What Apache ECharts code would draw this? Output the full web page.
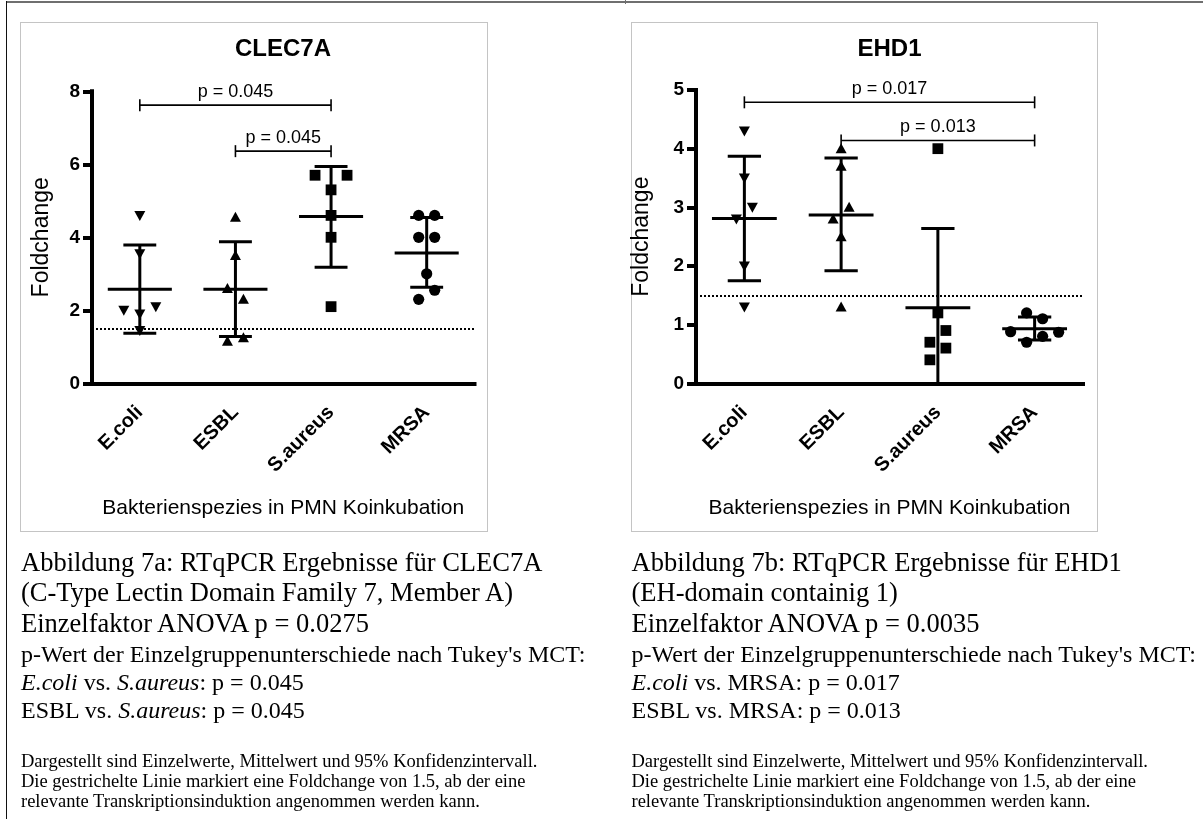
<!DOCTYPE html>
<html>
<head>
<meta charset="utf-8">
<title>RTqPCR CLEC7A / EHD1</title>
<script src="https://cdn.jsdelivr.net/npm/echarts@6/dist/echarts.min.js"></script>
<style>
  html, body { margin: 0; padding: 0; background: #fff; }
  #page { position: relative; width: 1203px; height: 819px; overflow: hidden; background: #fff; }
  #chart { position: absolute; left: 0; top: 0; width: 1203px; height: 819px; }
  .frame { position: absolute; border: 1px solid #c4c4c4; box-sizing: border-box; }
  .rule { position: absolute; }
  .cap { position: absolute; font-family: "Liberation Serif", "Times New Roman", serif; color: #000;
         white-space: nowrap; line-height: 1; }
  .l1 { font-size: 26.5px; }
  .l2 { font-size: 24px; }
  .l3 { font-size: 18.5px; }
</style>
</head>
<body>
<div id="page">
  <div class="rule" style="left:6px;top:1px;width:1197px;height:2px;background:#6f6f6f;"></div>
  <div class="rule" style="left:6px;top:1px;width:1px;height:818px;background:#111;"></div>
  <div class="rule" style="left:625px;top:0;width:1px;height:4px;background:#6f6f6f;"></div>
  <div class="frame" style="left:20px;top:22px;width:468px;height:510px;"></div>
  <div class="frame" style="left:631px;top:22px;width:467px;height:510px;"></div>
  <div id="chart"></div>

  <!-- caption of figure 7a -->
  <div class="cap l1" style="left:21px;top:548.6px;">Abbildung 7a: RTqPCR Ergebnisse für CLEC7A</div>
  <div class="cap l1" style="left:21px;top:579.1px;">(C-Type Lectin Domain Family 7, Member A)</div>
  <div class="cap l1" style="left:21px;top:610.1px;">Einzelfaktor ANOVA p = 0.0275</div>
  <div class="cap l2" style="left:21px;top:641.6px;">p-Wert der Einzelgruppenunterschiede nach Tukey's MCT:</div>
  <div class="cap l2" style="left:21px;top:669.9px;"><i>E.coli</i> vs. <i>S.aureus</i>: p = 0.045</div>
  <div class="cap l2" style="left:21px;top:698.2px;">ESBL vs. <i>S.aureus</i>: p = 0.045</div>
  <div class="cap l3" style="left:21px;top:751.5px;">Dargestellt sind Einzelwerte, Mittelwert und 95% Konfidenzintervall.</div>
  <div class="cap l3" style="left:21px;top:771.5px;">Die gestrichelte Linie markiert eine Foldchange von 1.5, ab der eine</div>
  <div class="cap l3" style="left:21px;top:791.5px;">relevante Transkriptionsinduktion angenommen werden kann.</div>

  <!-- caption of figure 7b -->
  <div class="cap l1" style="left:631.5px;top:548.6px;">Abbildung 7b: RTqPCR Ergebnisse für EHD1</div>
  <div class="cap l1" style="left:631.5px;top:579.1px;">(EH-domain containig 1)</div>
  <div class="cap l1" style="left:631.5px;top:610.1px;">Einzelfaktor ANOVA p = 0.0035</div>
  <div class="cap l2" style="left:631.5px;top:641.6px;">p-Wert der Einzelgruppenunterschiede nach Tukey's MCT:</div>
  <div class="cap l2" style="left:631.5px;top:669.9px;"><i>E.coli</i> vs. MRSA: p = 0.017</div>
  <div class="cap l2" style="left:631.5px;top:698.2px;">ESBL vs. MRSA: p = 0.013</div>
  <div class="cap l3" style="left:631.5px;top:751.5px;">Dargestellt sind Einzelwerte, Mittelwert und 95% Konfidenzintervall.</div>
  <div class="cap l3" style="left:631.5px;top:771.5px;">Die gestrichelte Linie markiert eine Foldchange von 1.5, ab der eine</div>
  <div class="cap l3" style="left:631.5px;top:791.5px;">relevante Transkriptionsinduktion angenommen werden kann.</div>
</div>

<script>
// ---- data ----------------------------------------------------------------
const categories = ['E.coli', 'ESBL', 'S.aureus', 'MRSA'];

// CLEC7A fold changes per bacterial species
const clecEcoli   = [4.6, 3.55, 2.0, 1.9, 2.1, 1.45];
const clecEsbl    = [4.55, 3.5, 2.6, 2.3, 1.15, 1.25];
const clecSaureus = [5.7, 5.3, 5.7, 4.6, 4.0, 2.1];
const clecMrsa    = [4.6, 4.6, 4.0, 4.0, 3.0, 2.3, 2.55];
const clecMean    = [2.58, 2.58, 4.57, 3.57];
const clecCiLow   = [1.37, 1.28, 3.18, 2.63];
const clecCiHigh  = [3.79, 3.88, 5.94, 4.54];
const clecSigFrom  = [0, 1];
const clecSigTo    = [2, 2];
const clecSigLevel = [7.62, 6.36];
const clecSigLabel = ['p = 0.045', 'p = 0.045'];

// EHD1 fold changes per bacterial species
const ehdEcoli   = [4.3, 3.5, 2.8, 3.0, 2.0, 1.3];
const ehdEsbl    = [4.0, 3.7, 2.8, 3.0, 2.5, 1.3];
const ehdSaureus = [4.0, 1.2, 0.7, 0.9, 0.4, 0.6];
const ehdMrsa    = [1.2, 1.1, 0.88, 0.7, 0.8, 0.87];
const ehdMean    = [2.81, 2.87, 1.29, 0.93];
const ehdCiLow   = [1.75, 1.92, -0.05, 0.74];
const ehdCiHigh  = [3.87, 3.84, 2.64, 1.13];
const ehdSigFrom  = [0, 1];
const ehdSigTo    = [3, 3];
const ehdSigLevel = [4.79, 4.14];
const ehdSigLabel = ['p = 0.017', 'p = 0.013'];

const inductionThreshold = 1.5;

// ---- drawing helpers -----------------------------------------------------
const FONT = '"Liberation Sans", Arial, Helvetica, sans-serif';
const SHAPES = ['triangleDown', 'triangleUp', 'square', 'circle'];

// Column scatter: points closer than `near` px vertically share a row
// and are spread symmetrically around the column centre.
function swarmOffsets(ys, near, step) {
  const order = ys.map((y, i) => i).sort((a, b) => (ys[b] - ys[a]) || (a - b));
  const offs = new Array(ys.length).fill(0);
  let bin = [];
  const flush = () => {
    bin.sort((a, b) => a - b);
    bin.forEach((idx, k) => { offs[idx] = (k - (bin.length - 1) / 2) * step; });
    bin = [];
  };
  let start = null;
  order.forEach(i => {
    if (bin.length && Math.abs(ys[i] - start) >= near) flush();
    if (!bin.length) start = ys[i];
    bin.push(i);
  });
  if (bin.length) flush();
  return offs;
}

function markerShape(kind, x, y) {
  const st = { fill: '#000', stroke: null };
  if (kind === 'triangleDown')
    return { type: 'polygon', shape: { points: [[x - 5.5, y - 4.5], [x + 5.5, y - 4.5], [x, y + 5.5]] }, style: st };
  if (kind === 'triangleUp')
    return { type: 'polygon', shape: { points: [[x - 5.5, y + 4.5], [x + 5.5, y + 4.5], [x, y - 5.5]] }, style: st };
  if (kind === 'square')
    return { type: 'rect', shape: { x: x - 5.4, y: y - 5.4, width: 10.8, height: 10.8 }, style: st };
  return { type: 'circle', shape: { cx: x, cy: y, r: 5.6 }, style: st };
}

function pointsSeries(grid, groups) {
  const data = [];
  groups.forEach((vals, c) => vals.forEach((v, k) => data.push([c, v, k])));
  return {
    type: 'custom', xAxisIndex: grid, yAxisIndex: grid, z: 3, data,
    renderItem(params, api) {
      const c = api.value(0), v = api.value(1), k = api.value(2);
      const ys = groups[c].map(val => api.coord([c, val])[1]);
      const offs = swarmOffsets(ys, 15, 16);
      const p = api.coord([c, v]);
      return markerShape(SHAPES[c], p[0] + offs[k], p[1]);
    }
  };
}

function summarySeries(grid, mean, lo, hi, yMin) {
  return {
    type: 'custom', xAxisIndex: grid, yAxisIndex: grid, z: 4,
    data: mean.map((m, c) => [c, m, lo[c], hi[c]]),
    renderItem(params, api) {
      const c = api.value(0);
      const band = api.size([1, 0])[0];
      const pm = api.coord([c, api.value(1)]);
      const lowVal = api.value(2), highVal = api.value(3);
      const ph = api.coord([c, highVal]);
      const pl = api.coord([c, Math.max(lowVal, yMin)]);
      const mw = band * 0.335, cw = band * 0.172;
      const st = { stroke: '#000', lineWidth: 3 };
      const kids = [
        { type: 'line', shape: { x1: pm[0] - mw, y1: pm[1], x2: pm[0] + mw, y2: pm[1] }, style: st },
        { type: 'line', shape: { x1: ph[0], y1: ph[1], x2: pl[0], y2: pl[1] }, style: st },
        { type: 'line', shape: { x1: ph[0] - cw, y1: ph[1], x2: ph[0] + cw, y2: ph[1] }, style: st }
      ];
      if (lowVal >= yMin)
        kids.push({ type: 'line', shape: { x1: pl[0] - cw, y1: pl[1], x2: pl[0] + cw, y2: pl[1] }, style: st });
      return { type: 'group', children: kids };
    },
    markLine: {
      silent: true, symbol: 'none', label: { show: false },
      lineStyle: { color: '#000', width: 2, type: [2, 2] },
      data: [{ yAxis: inductionThreshold }]
    }
  };
}

function bracketSeries(grid, from, to, level, labels) {
  return {
    type: 'custom', xAxisIndex: grid, yAxisIndex: grid, z: 5, clip: false,
    data: from.map((f, i) => [f, to[i], level[i], i]),
    renderItem(params, api) {
      const a = api.coord([api.value(0), api.value(2)]);
      const b = api.coord([api.value(1), api.value(2)]);
      const st = { stroke: '#000', lineWidth: 1.6 };
      const y = a[1];
      return {
        type: 'group',
        children: [
          { type: 'line', shape: { x1: a[0], y1: y, x2: b[0], y2: y }, style: st },
          { type: 'line', shape: { x1: a[0], y1: y - 6, x2: a[0], y2: y + 6 }, style: st },
          { type: 'line', shape: { x1: b[0], y1: y - 6, x2: b[0], y2: y + 6 }, style: st },
          { type: 'text', x: (a[0] + b[0]) / 2, y: y - 4,
            style: { text: labels[api.value(3)], fill: '#000', font: '18px ' + FONT,
                     align: 'center', verticalAlign: 'bottom' } }
        ]
      };
    }
  };
}

function xAxisFor(grid) {
  return {
    gridIndex: grid, type: 'category', data: categories,
    axisLine: { lineStyle: { color: '#000', width: 4, cap: 'square' } },
    axisTick: { alignWithLabel: true, length: 10, lineStyle: { color: '#000', width: 4 } },
    axisLabel: { rotate: 45, margin: 26, color: '#000', fontSize: 20, fontWeight: 'bold', fontFamily: FONT },
    name: 'Bakterienspezies in PMN Koinkubation', nameLocation: 'middle', nameGap: 114,
    nameTextStyle: { color: '#000', fontSize: 21, fontFamily: FONT }
  };
}

function yAxisFor(grid, max, interval, gap) {
  return {
    gridIndex: grid, type: 'value', min: 0, max, interval,
    axisLine: { show: true, lineStyle: { color: '#000', width: 4, cap: 'square' } },
    axisTick: { show: true, length: 9, lineStyle: { color: '#000', width: 4 } },
    splitLine: { show: false },
    axisLabel: { margin: 12, color: '#000', fontSize: 19, fontWeight: 'bold', fontFamily: FONT },
    name: 'Foldchange', nameLocation: 'middle', nameGap: gap,
    nameTextStyle: { color: '#000', fontSize: 23, fontFamily: FONT }
  };
}

const chart = echarts.init(document.getElementById('chart'), null, { renderer: 'canvas' });
chart.setOption({
  animation: false,
  backgroundColor: 'transparent',
  graphic: [
    { type: 'text', x: 283, y: 49, style: { text: 'CLEC7A', font: 'bold 24px ' + FONT, fill: '#000', align: 'center', verticalAlign: 'middle' } },
    { type: 'text', x: 889.5, y: 49, style: { text: 'EHD1', font: 'bold 24px ' + FONT, fill: '#000', align: 'center', verticalAlign: 'middle' } }
  ],
  grid: [
    { left: 92, top: 91.3, width: 382.5, height: 292 },
    { left: 696, top: 90, width: 387, height: 293.3 }
  ],
  xAxis: [xAxisFor(0), xAxisFor(1)],
  yAxis: [yAxisFor(0, 8, 2, 39), yAxisFor(1, 5, 1, 43)],
  series: [
    pointsSeries(0, [clecEcoli, clecEsbl, clecSaureus, clecMrsa]),
    summarySeries(0, clecMean, clecCiLow, clecCiHigh, 0),
    bracketSeries(0, clecSigFrom, clecSigTo, clecSigLevel, clecSigLabel),
    pointsSeries(1, [ehdEcoli, ehdEsbl, ehdSaureus, ehdMrsa]),
    summarySeries(1, ehdMean, ehdCiLow, ehdCiHigh, 0),
    bracketSeries(1, ehdSigFrom, ehdSigTo, ehdSigLevel, ehdSigLabel)
  ]
});
</script>
</body>
</html>
